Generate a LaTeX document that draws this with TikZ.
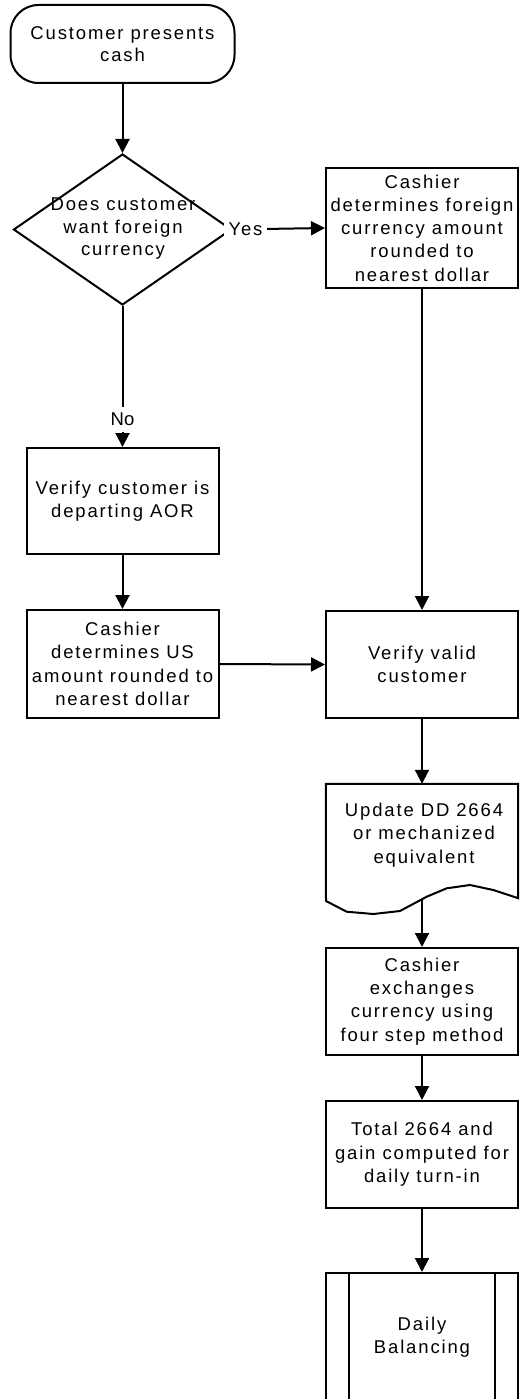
\documentclass[tikz,border=0pt]{standalone}
\usepackage{fontspec}
\setmainfont{Liberation Sans}[LetterSpace=10]
\usetikzlibrary{arrows.meta,shapes.geometric}
\tikzset{
  lw/.style={line width=2pt},
  boxnode/.style={lw, draw, minimum width=192pt, align=center, inner sep=0pt,
    font=\fontsize{18.5}{23.3}\selectfont},
  txtnode/.style={align=center, inner sep=0pt, font=\fontsize{18.5}{23.3}\selectfont},
  arr/.style={lw, -{Triangle[length=14pt,width=14pt]}},
  lbl/.style={fill=white, font=\fontsize{18.5}{22}\selectfont, inner xsep=5pt, inner ysep=6.5pt}
}
\begin{document}
\begin{tikzpicture}[x=1pt,y=-1pt]
\useasboundingbox (0,0) rectangle (519,1399);

% start terminal
\node[boxnode, minimum width=224pt, minimum height=78pt, rounded corners=28pt, font=\fontsize{18.5}{21.7}\selectfont] (start) at (122.5,44) {Customer presents\\cash};

% decision
\node[lw, draw, diamond, minimum width=218pt, minimum height=151pt, inner sep=0pt] (dec) at (122.5,229.5) {};
\node[txtnode, font=\fontsize{18.5}{22.5}\selectfont] (dect) at (123,229) {Does customer\\want foreign\\currency};

% right column
\node[boxnode, minimum height=120pt] (c1) at (422,228) {Cashier\\determines foreign\\currency amount\\rounded to\\nearest dollar};
\node[boxnode, minimum height=107pt] (vv) at (422,664.5) {Verify valid\\customer};

% document
\node[minimum width=192pt, minimum height=114pt, inner sep=0pt] (doc) at (422,841) {};
\draw[lw] (doc.north west) -- (doc.north east) -- (doc.south east)
  -- (493.3,890) -- (470,885) -- (446.7,888.3) -- (426.7,896.7) -- (400,911)
  -- (373.3,914) -- (346.7,911.7) -- (326,901) -- cycle;
\node[txtnode] (doct) at (424,835) {Update DD 2664\\or mechanized\\equivalent};
\coordinate (docout) at (422,899);

\node[boxnode, minimum height=107pt] (ce) at (422,1001.5) {Cashier\\exchanges\\currency using\\four step method};
\node[boxnode, minimum height=107pt] (tot) at (422,1154.5) {Total 2664 and\\gain computed for\\daily turn-in};

% predefined process (cut by the page bottom)
\begin{scope}
\clip (0,0) rectangle (519,1399);
\node[boxnode, minimum height=128pt] (daily) at (422,1337) {Daily\\Balancing};
\draw[lw] ([xshift=24pt]daily.north west) -- ([xshift=24pt]daily.south west);
\draw[lw] ([xshift=-24pt]daily.north east) -- ([xshift=-24pt]daily.south east);
\end{scope}

% left column
\node[boxnode, minimum height=106pt] (v1) at (122.5,501) {Verify customer is\\departing AOR};
\node[boxnode, minimum height=108pt] (c2) at (122.5,664) {Cashier\\determines US\\amount rounded to\\nearest dollar};

% connectors
\draw[arr] (start.south) -- (dec.north);
\draw[arr] (dec.east) -- node[lbl, pos=0.14] (yes) {Yes} (c1.west);
\draw[arr] (dec.south) -- node[lbl, pos=0.805] (no) {\addfontfeature{LetterSpace=0}No} (v1.north);
\draw[arr] (v1.south) -- (c2.north);
\draw[arr] (c2.east) -- (vv.west);
\draw[arr] (c1.south) -- (vv.north);
\draw[arr] (vv.south) -- (doc.north);
\draw[arr] (docout) -- (ce.north);
\draw[arr] (ce.south) -- (tot.north);
\draw[arr] (tot.south) -- (daily.north);
\end{tikzpicture}
\end{document}
